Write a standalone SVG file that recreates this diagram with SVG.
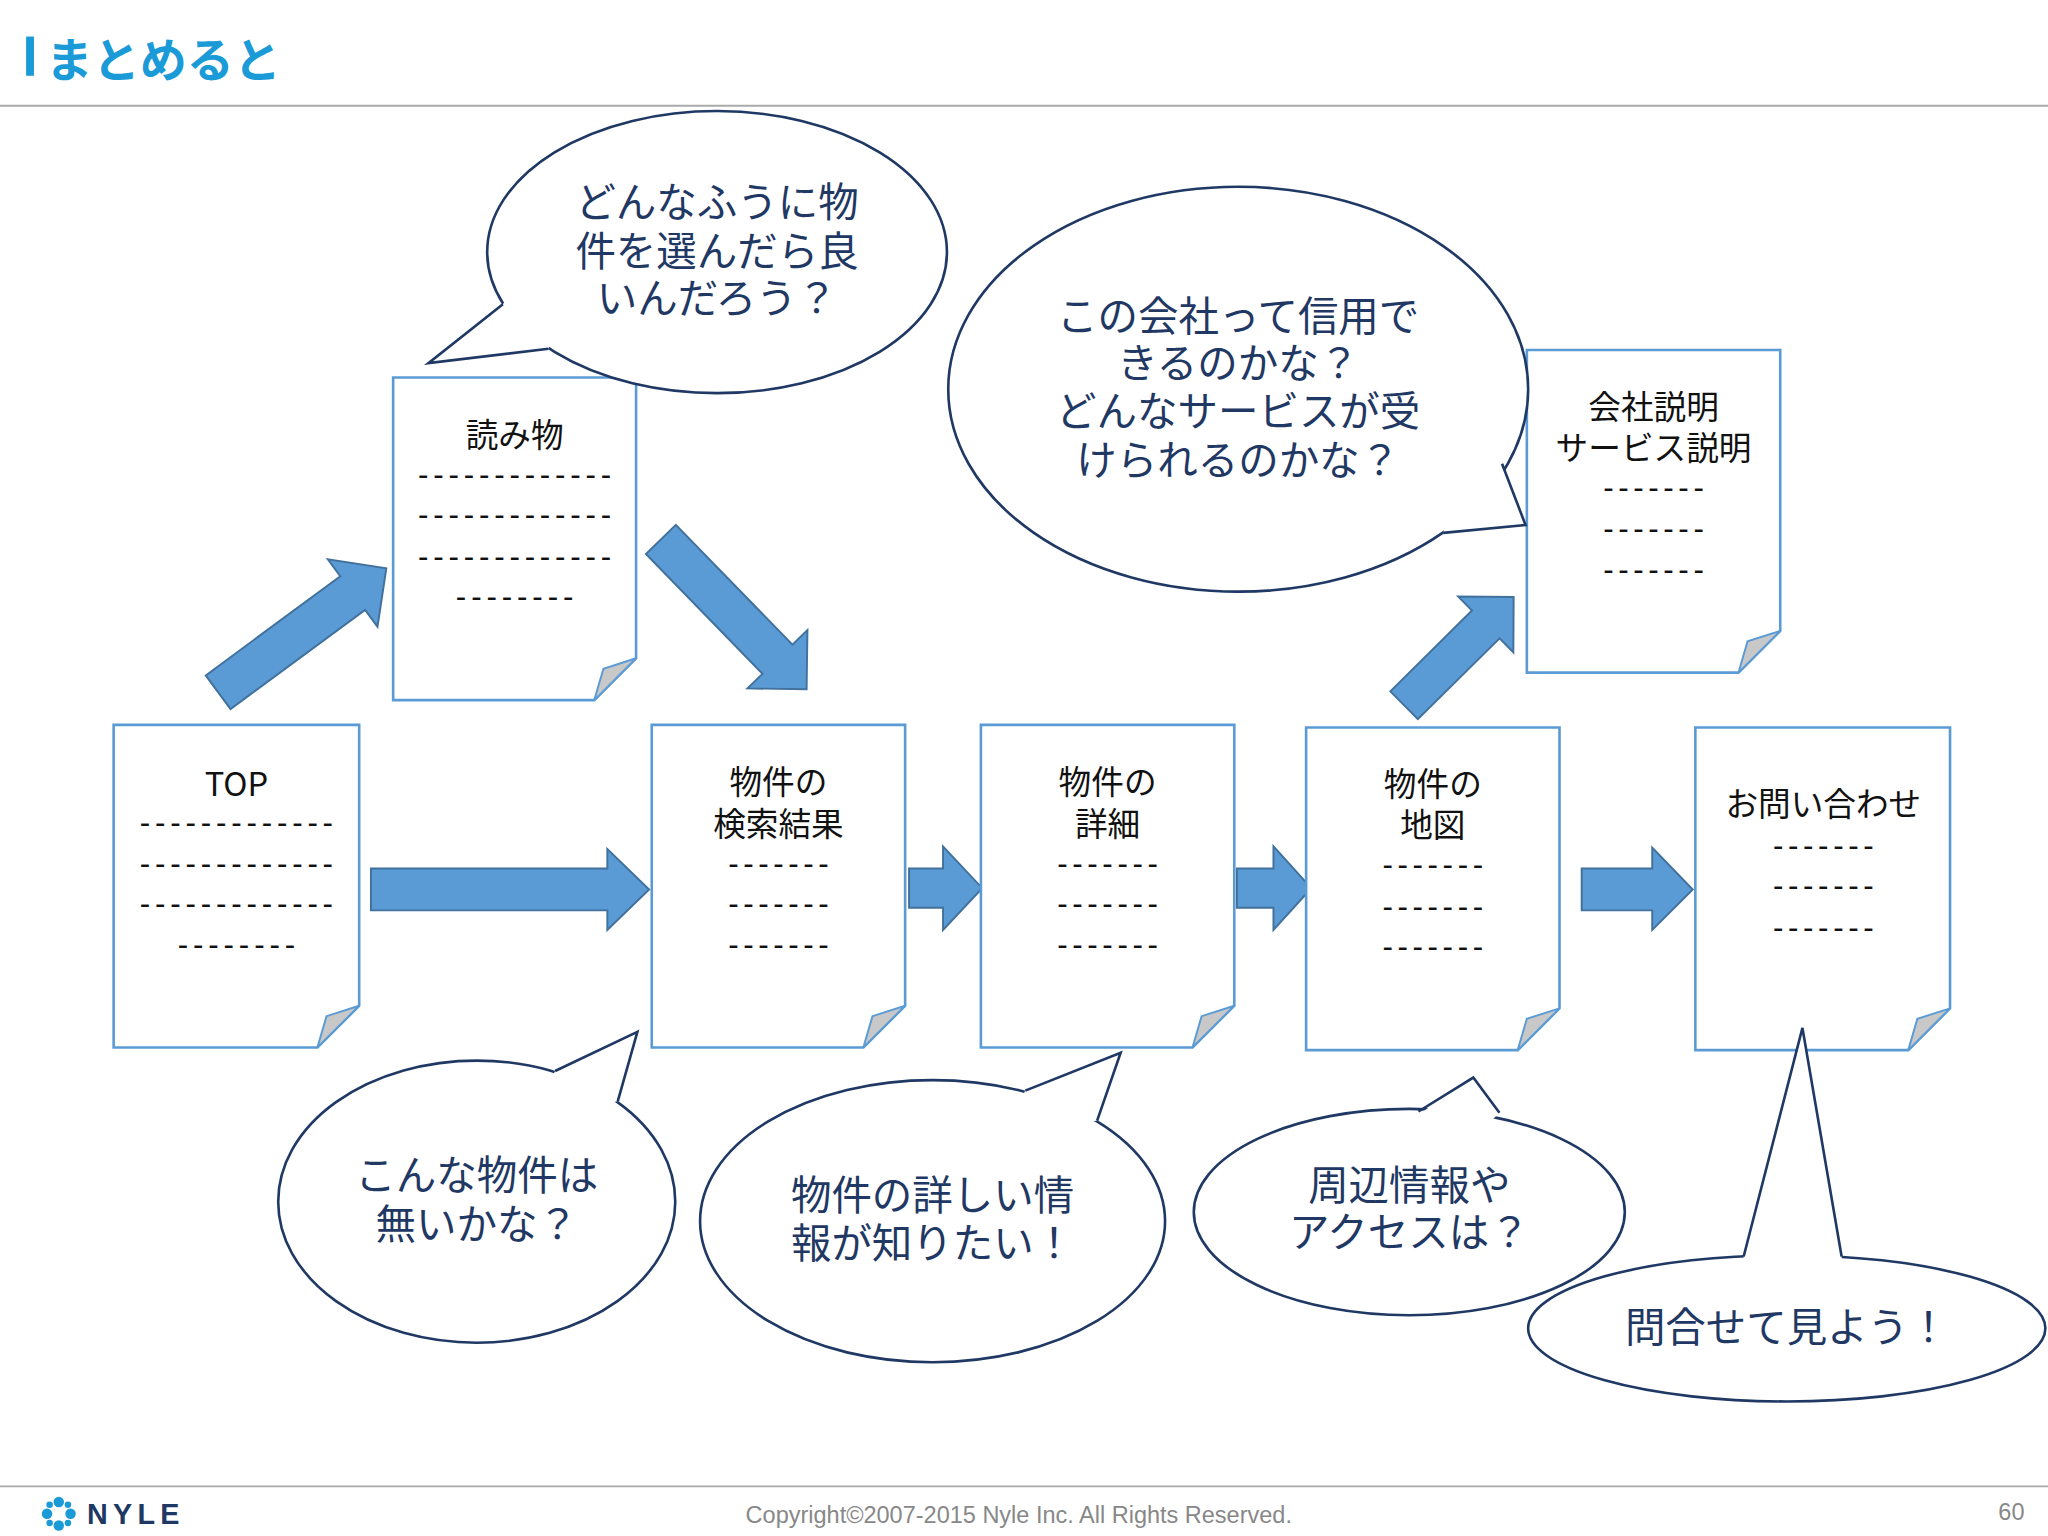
<svg xmlns="http://www.w3.org/2000/svg" width="2048" height="1536" viewBox="0 0 2048 1536">
<style>
text{font-family:"Noto Sans CJK JP","Liberation Sans",sans-serif;dominant-baseline:central;text-anchor:middle}
.doc{fill:#fff;stroke:#5b9bd5;stroke-width:2}
.fold{fill:#c8c8c8;stroke:#5b9bd5;stroke-width:1.5}
.dt{font-size:25px;fill:#111}
.ds{font-size:24px;fill:#111;font-family:"Liberation Sans",sans-serif}
.arr{fill:#5b9bd5;stroke:#41719c;stroke-width:1.5}
.bub{fill:#fff;stroke:#1f3864;stroke-width:2}
.tail{fill:none;stroke:#1f3864;stroke-width:2}
.bt{font-size:31px;fill:#1f3864}
</style>
<defs>
<polygon id="fa" points="0,-16 0,16 0,16"/>
</defs>
<rect width="2048" height="1536" fill="#fff"/>
<g transform="scale(1.30612)">
<g id="header">
<rect x="20" y="28" width="6" height="30" fill="#1a9ad6"/>
<text x="35" y="43" style="text-anchor:start;font-size:36px;font-weight:bold;fill:#1a9ad6">まとめると</text>
<line x1="0" y1="81" x2="1568" y2="81" stroke="#aaa" stroke-width="1.5"/>
</g>
<g id="connectors">
<polygon class="arr" points="284,665 465,665 465,650 497,681 465,712 465,697 284,697"/>
<polygon class="arr" points="696,665 722,665 722,648 752,680 722,712 722,695 696,695"/>
<polygon class="arr" points="947,665 975,665 975,648 1004,680 975,712 975,695 947,695"/>
<polygon class="arr" points="1211,665 1265,665 1265,649 1296,681 1265,712 1265,697 1211,697"/>
<g transform="translate(167,530) rotate(-36.4)"><polygon class="arr" points="0,-16 128,-16 128,-32 160,0 128,32 128,16 0,16"/></g>
<g transform="translate(506,413) rotate(45.8)"><polygon class="arr" points="0,-16 128,-16 128,-32 160,0 128,32 128,16 0,16"/></g>
<g transform="translate(1075,540) rotate(-44.7)"><polygon class="arr" points="0,-15 88,-15 88,-30 118,0 88,30 88,15 0,15"/></g>
</g>
<g id="doc-top"><path class="doc" d="M87,555H275V770L243,802H87Z"/><polygon class="fold" points="243,802 250,778 275,770"/>
<text class="dt" x="181" y="598">TOP</text>
<text class="ds" x="181" y="630" textLength="148">-------------</text><text class="ds" x="181" y="661" textLength="148">-------------</text><text class="ds" x="181" y="692" textLength="148">-------------</text><text class="ds" x="181" y="723" textLength="90">--------</text></g>
<g id="doc-yomimono"><path class="doc" d="M301,289H487V504L455,536H301Z"/><polygon class="fold" points="455,536 462,512 487,504"/>
<text class="dt" x="394" y="331">読み物</text>
<text class="ds" x="394" y="363" textLength="148">-------------</text><text class="ds" x="394" y="394" textLength="148">-------------</text><text class="ds" x="394" y="426" textLength="148">-------------</text><text class="ds" x="394" y="457" textLength="90">--------</text></g>
<g id="doc-search"><path class="doc" d="M499,555H693V770L661,802H499Z"/><polygon class="fold" points="661,802 668,778 693,770"/>
<text class="dt" x="596" y="597">物件の</text><text class="dt" x="596" y="629">検索結果</text>
<text class="ds" x="596" y="661" textLength="77">-------</text><text class="ds" x="596" y="692" textLength="77">-------</text><text class="ds" x="596" y="723" textLength="77">-------</text></g>
<g id="doc-detail"><path class="doc" d="M751,555H945V770L913,802H751Z"/><polygon class="fold" points="913,802 920,778 945,770"/>
<text class="dt" x="848" y="597">物件の</text><text class="dt" x="848" y="629">詳細</text>
<text class="ds" x="848" y="661" textLength="77">-------</text><text class="ds" x="848" y="692" textLength="77">-------</text><text class="ds" x="848" y="723" textLength="77">-------</text></g>
<g id="doc-map"><path class="doc" d="M1000,557H1194V772L1162,804H1000Z"/><polygon class="fold" points="1162,804 1169,780 1194,772"/>
<text class="dt" x="1097" y="598">物件の</text><text class="dt" x="1097" y="630">地図</text>
<text class="ds" x="1097" y="662" textLength="77">-------</text><text class="ds" x="1097" y="694" textLength="77">-------</text><text class="ds" x="1097" y="725" textLength="77">-------</text></g>
<g id="doc-contact"><path class="doc" d="M1298,557H1493V772L1461,804H1298Z"/><polygon class="fold" points="1461,804 1468,780 1493,772"/>
<text class="dt" x="1396" y="614">お問い合わせ</text>
<text class="ds" x="1396" y="647" textLength="77">-------</text><text class="ds" x="1396" y="678" textLength="77">-------</text><text class="ds" x="1396" y="710" textLength="77">-------</text></g>
<g id="doc-company"><path class="doc" d="M1169,268H1363V483L1331,515H1169Z"/><polygon class="fold" points="1331,515 1338,491 1363,483"/>
<text class="dt" x="1266" y="310">会社説明</text><text class="dt" x="1266" y="341">サービス説明</text>
<text class="ds" x="1266" y="373" textLength="77">-------</text><text class="ds" x="1266" y="405" textLength="77">-------</text><text class="ds" x="1266" y="436" textLength="77">-------</text></g>
<g id="bubble1"><ellipse class="bub" cx="549" cy="193" rx="176" ry="108"/><polygon points="385,233 328,278 420,267 430,245 395,220" fill="#fff"/><polyline class="tail" points="385,233 328,278 420,267"/>
<text class="bt" x="549" y="153">どんなふうに物</text><text class="bt" x="549" y="190">件を選んだら良</text><text class="bt" x="549" y="226">いんだろう？</text></g>
<g id="bubble2"><ellipse class="bub" cx="948" cy="298" rx="222" ry="155"/><polygon points="1150,355 1168,402 1105,408 1110,380 1140,350" fill="#fff"/><polyline class="tail" points="1150,355 1168,402 1105,408"/>
<text class="bt" x="948" y="240">この会社って信用で</text><text class="bt" x="948" y="276">きるのかな？</text><text class="bt" x="948" y="313">どんなサービスが受</text><text class="bt" x="948" y="350">けられるのかな？</text></g>
<g id="bubble3"><ellipse class="bub" cx="365" cy="920" rx="152" ry="108"/><polygon points="425,820 488,790 473,843 450,850 420,830" fill="#fff"/><polyline class="tail" points="425,820 488,790 473,843"/>
<text class="bt" x="365" y="898">こんな物件は</text><text class="bt" x="365" y="935">無いかな？</text></g>
<g id="bubble4"><ellipse class="bub" cx="714" cy="935" rx="178" ry="108"/><polygon points="785,835 858,806 840,858 815,860 780,845" fill="#fff"/><polyline class="tail" points="785,835 858,806 840,858"/>
<text class="bt" x="714" y="913">物件の詳しい情</text><text class="bt" x="714" y="950">報が知りたい！</text></g>
<g id="bubble5"><ellipse class="bub" cx="1079" cy="928" rx="165" ry="79"/><polygon points="1088,852 1128,825 1148,852 1140,860 1090,860" fill="#fff"/><polyline class="tail" points="1086,851 1128,825 1148,852"/>
<text class="bt" x="1079" y="905">周辺情報や</text><text class="bt" x="1079" y="941">アクセスは？</text></g>
<g id="bubble6"><ellipse class="bub" cx="1368" cy="1017" rx="198" ry="56"/><polygon points="1335,962 1380,787 1410,962 1410,970 1335,970" fill="#fff"/><polyline class="tail" points="1335,962 1380,787 1410,962"/>
<text class="bt" x="1368" y="1014">問合せて見よう！</text></g>
<g id="footer">
<line x1="0" y1="1138" x2="1568" y2="1138" stroke="#aaa" stroke-width="1.5"/>
<g fill="#1a9ad6"><circle cx="45" cy="1150" r="4"/><circle cx="45" cy="1168" r="4"/><circle cx="36" cy="1159" r="4"/><circle cx="54" cy="1159" r="4"/><circle cx="38" cy="1152" r="2.5"/><circle cx="52" cy="1166" r="2.5"/><circle cx="52" cy="1152" r="2.5"/><circle cx="38" cy="1166" r="2.5"/></g>
<text x="104" y="1159" style="font-family:'Liberation Sans',sans-serif;font-size:22px;font-weight:bold;fill:#1f3864;letter-spacing:4px">NYLE</text>
<text x="780" y="1160" style="font-family:'Liberation Sans',sans-serif;font-size:18px;fill:#888">Copyright©2007-2015 Nyle Inc. All Rights Reserved.</text>
<text x="1540" y="1158" style="font-family:'Liberation Sans',sans-serif;font-size:18px;fill:#888">60</text>
</g>
</g>
</svg>
